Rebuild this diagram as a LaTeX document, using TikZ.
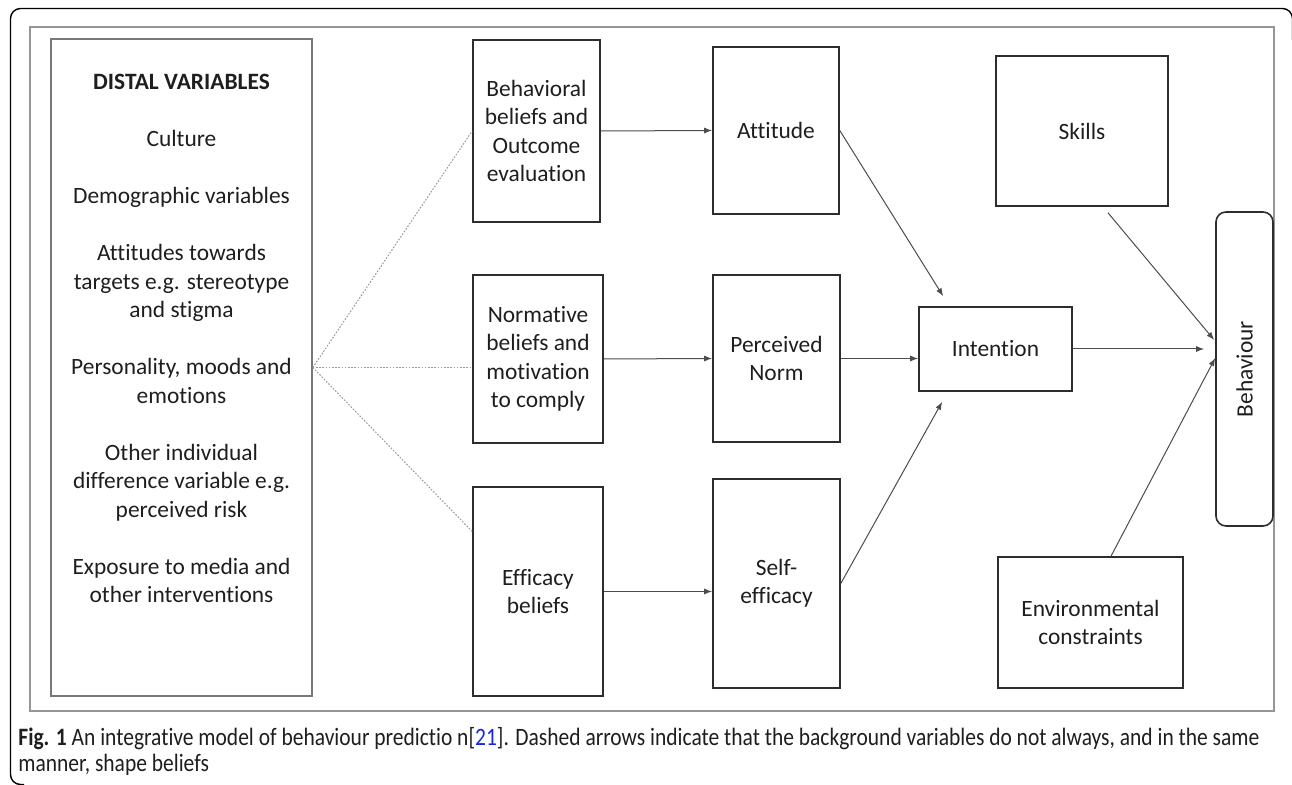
\documentclass[tikz,border=0pt]{standalone}
\usepackage{fontspec}
\setmainfont{Carlito}[Ligatures=NoCommon]
\newfontfamily\capfont[FakeStretch=0.86, Ligatures=NoCommon]{Carlito}
\usetikzlibrary{positioning, arrows.meta, calc}
\definecolor{boxgray}{RGB}{45,45,45}
\definecolor{framegray}{RGB}{150,150,150}
\definecolor{txtgray}{RGB}{30,30,30}
\definecolor{linkblue}{RGB}{20,40,220}

\begin{document}
\begin{tikzpicture}[x=0.5pt, y=-0.5pt,
                varbox/.style={draw=boxgray, line width=0.8pt, align=center,
                    text=txtgray, inner sep=0pt,
                    font=\fontsize{11.7}{14.25}\selectfont},
                lbl/.style={align=center, text=txtgray, inner sep=0pt,
                    font=\fontsize{11.7}{14.25}\selectfont},
                link/.style={draw=boxgray!85, line width=0.5pt,
                    -{Latex[length=4pt,width=3pt]}},
                bgline/.style={draw=framegray, line width=0.5pt,
                    dash pattern=on 0.8pt off 0.8pt},
                captxt/.style={align=left, text=txtgray, inner sep=0pt,
                    font=\capfont\fontsize{12.5}{12.8}\selectfont}
            ]

            \useasboundingbox (0,0) rectangle (1292,785);

            % outer frame and panel
            \draw[black, line width=0.7pt, rounded corners=5pt]
                (24,784.5) -- (10.5,784.5) -- (10.5,8.5) -- (1292.5,8.5) -- (1292.5,40);
            \draw[framegray, line width=0.7pt] (30,27) rectangle (1274,711);

            % distal variables
            \node[varbox, draw=framegray!80!black, minimum width=130.5pt,
                  minimum height=328.5pt] (distal) at (181.5,367.5) {};
            \node[lbl, below=18pt of distal.north] (distaltxt)
                {\textbf{DISTAL VARIABLES}\\[14.25pt]
                 Culture\\[14.25pt]
                 Demographic variables\\[14.25pt]
                 Attitudes towards\\
                 targets e.g. stereotype\\
                 and stigma\\[14.25pt]
                 Personality, moods and\\
                 emotions\\[14.25pt]
                 Other individual\\
                 difference variable e.g.\\
                 perceived risk\\[14.25pt]
                 Exposure to media and\\
                 other interventions};

            % beliefs
            \node[varbox, minimum width=63.5pt, minimum height=91pt] (behavioral)
                at (536.5,131) {Behavioral\\beliefs and\\Outcome\\evaluation};
            \node[varbox, minimum width=65pt, minimum height=84pt] (normative)
                at (538,359) {Normative\\beliefs and\\motivation\\to comply};
            \node[varbox, minimum width=65pt, minimum height=104.5pt] (efficacy)
                at (538,591.5) {Efficacy\\beliefs};

            % attitude, norm, self-efficacy
            \node[varbox, minimum width=63pt, minimum height=83.5pt] (attitude)
                at (776,130.5) {Attitude};
            \node[varbox, minimum width=63.5pt, minimum height=83.5pt] (perceived)
                at (776.5,358.5) {Perceived\\Norm};
            \node[varbox, minimum width=63.5pt, minimum height=104.5pt] (selfeff)
                at (776.5,583.5) {Self-\\efficacy};

            % intention, skills, constraints, behaviour
            \node[varbox, minimum width=76.5pt, minimum height=42pt] (intention)
                at (995.5,349) {Intention};
            \node[varbox, minimum width=86pt, minimum height=75pt] (skills)
                at (1082,131) {Skills};
            \node[varbox, minimum width=92.5pt, minimum height=65.5pt] (env)
                at (1090.5,622.5) {Environmental\\constraints};
            \node[varbox, rounded corners=5pt, minimum width=28.5pt,
                  minimum height=157pt] (behaviour) at (1244.5,369) {};
            \node[lbl, rotate=90] (behaviourtxt) at (behaviour.center) {Behaviour};

            % dotted background links
            \draw[bgline] (distal.east) -- (behavioral.west);
            \draw[bgline] (distal.east) -- (distal.east -| normative.west);
            \draw[bgline] (distal.east) -- ($(efficacy.west)+(0,-60)$);

            % arrows
            \draw[link] (behavioral.east) -- (attitude.west);
            \draw[link] (normative.east) -- (perceived.west);
            \draw[link] (efficacy.east) -- (efficacy.east -| selfeff.west);
            \draw[link] (attitude.east) -- ($(intention.north west)+(25,-10)$);
            \draw[link] (perceived.east) -- (perceived.east -| intention.west);
            \draw[link] (selfeff.east) -- ($(intention.south west)+(24,10)$);
            \draw[link] (intention.east) -- ($(intention.east -| behaviour.west)+(-11,0)$);
            \draw[link] ($(skills.south)+(26,6)$) -- ($(behaviour.west)+(-1,-29)$);
            \draw[link] ($(env.north)+(20.5,0)$) -- ($(behaviour.west)+(0,-11)$);

            % caption
            \node[captxt, anchor=north west] (caption) at (18,727)
                {\textbf{Fig. 1} An integrative model of behaviour predictio n[{\color{linkblue}21}]. Dashed arrows indicate that the background variables do not always, and in the same\\
                 manner, shape beliefs};

            \end{tikzpicture}
\end{document}
